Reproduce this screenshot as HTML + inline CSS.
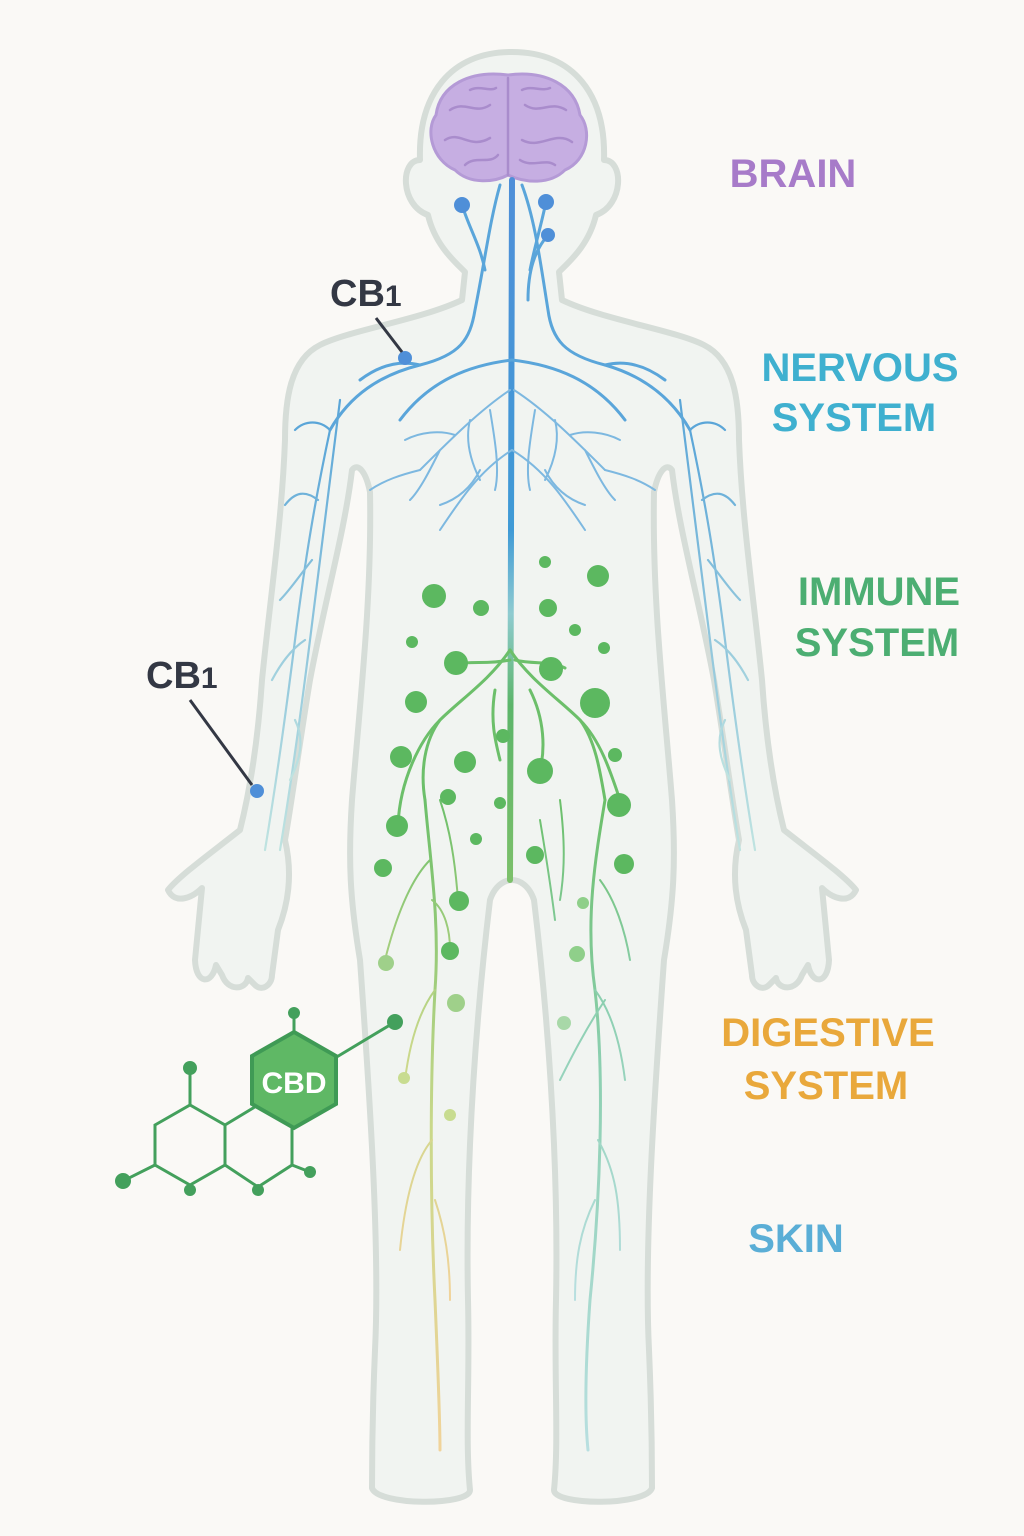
<!DOCTYPE html>
<html><head><meta charset="utf-8"><style>
html,body{margin:0;padding:0;background:#faf9f6;}
svg{display:block}
text{font-family:"Liberation Sans",sans-serif;font-weight:bold;}
</style></head><body>
<svg width="1024" height="1536" viewBox="0 0 1024 1536" xmlns="http://www.w3.org/2000/svg">
<defs>
<linearGradient id="sp" x1="0" y1="0" x2="0" y2="1">
<stop offset="0" stop-color="#4f8fd8"/><stop offset="0.5" stop-color="#3f9ad6"/><stop offset="0.62" stop-color="#8fcbd0"/><stop offset="0.75" stop-color="#5cb56a"/><stop offset="1" stop-color="#7cc06a"/>
</linearGradient>
<linearGradient id="lg" x1="0" y1="0" x2="0" y2="1">
<stop offset="0" stop-color="#6cbf6a"/><stop offset="0.5" stop-color="#c9d88a"/><stop offset="1" stop-color="#f1d39a"/>
</linearGradient>
<linearGradient id="rg" x1="0" y1="0" x2="0" y2="1">
<stop offset="0" stop-color="#6cbf6a"/><stop offset="0.4" stop-color="#8ccfb0"/><stop offset="1" stop-color="#b8dfe0"/>
</linearGradient>
<linearGradient id="ag" x1="0" y1="0" x2="0" y2="1">
<stop offset="0" stop-color="#5aa5d8"/><stop offset="1" stop-color="#bfe3e0"/>
</linearGradient>
<path id="half" d="M512,52 C450,52 418,95 420,160 C400,160 400,205 428,215 C435,245 455,262 465,272 L462,300 C420,320 350,330 320,345 C290,360 285,400 285,440 C282,520 270,600 262,680 C258,740 250,790 240,830 C215,850 180,875 168,890 C175,905 192,898 202,888 L195,960 C196,985 212,985 216,965 L222,975 C228,992 246,990 248,978 L255,985 C262,992 272,985 272,975 L278,930 C290,900 292,870 285,840 C292,800 300,740 310,680 C325,600 345,530 352,470 C358,462 366,472 370,492 C372,600 360,700 352,800 C348,860 350,900 360,960 C370,1100 380,1250 375,1350 C372,1420 372,1470 372,1488 C378,1506 470,1506 470,1490 C465,1440 470,1380 468,1300 C465,1150 478,1000 490,900 C495,885 505,880 512,880"/>
</defs>
<rect width="1024" height="1536" fill="#faf9f6"/>
<g fill="#f1f4f1" stroke="#d6ddd8" stroke-width="6" stroke-linejoin="round">
<use href="#half"/>
<use href="#half" transform="translate(1024,0) scale(-1,1)"/>
</g>
<!-- brain -->
<g>
<path d="M508,75 C470,70 440,85 436,115 C425,130 432,160 455,170 C470,185 495,182 508,175 C525,183 550,185 565,170 C588,160 592,130 580,115 C575,85 545,70 508,75 Z" fill="#c6aee2" stroke="#b49ad6" stroke-width="3"/>
<g fill="none" stroke="#a98ccc" stroke-width="2.5" stroke-linecap="round">
<path d="M508,78 L508,175"/>
<path d="M450,110 C465,100 475,115 490,105"/><path d="M445,140 C460,130 470,150 490,138"/><path d="M465,165 C475,155 490,165 498,155"/>
<path d="M525,105 C540,115 550,100 566,110"/><path d="M522,140 C540,150 555,130 572,142"/><path d="M520,160 C532,168 545,158 555,165"/>
<path d="M470,90 C480,85 490,92 496,88"/><path d="M522,90 C532,85 542,92 550,88"/>
</g>
</g>
<!-- nerves -->
<g fill="none" stroke-linecap="round">
<path d="M512,180 L510,880" stroke="url(#sp)" stroke-width="6"/>
<g stroke="#5aa5da" stroke-width="3">
<path d="M500,185 C490,220 485,260 475,310 C470,340 460,355 420,365 C380,375 350,395 330,430"/>
<path d="M522,185 C535,220 540,260 548,310 C552,340 565,355 605,365 C640,375 670,395 690,430"/>
<path d="M462,205 C470,230 480,245 485,270"/><path d="M546,202 C540,230 535,245 530,270"/>
<path d="M548,235 C535,250 528,270 528,300"/>
<path d="M512,360 C470,365 430,380 400,420"/><path d="M512,360 C555,365 595,380 625,420"/>
<path d="M420,365 C400,360 380,365 360,380"/><path d="M605,365 C625,360 645,365 665,380"/>
</g>
<g stroke="#7db8e0" stroke-width="2">
<path d="M510,390 C480,410 450,440 420,470 M455,435 C440,430 420,432 405,440 M440,450 C430,470 420,490 410,500 M470,420 C465,440 470,460 480,480 M490,410 C495,440 500,470 495,490 M480,470 C470,490 455,500 440,505"/>
<path d="M514,390 C545,410 575,440 605,470 M570,435 C585,430 605,432 620,440 M585,450 C595,470 605,490 615,500 M555,420 C560,440 555,460 545,480 M535,410 C530,440 525,470 530,490 M545,470 C555,490 570,500 585,505"/>
<path d="M512,450 C480,470 460,500 440,530 M512,450 C545,470 565,500 585,530 M420,470 C400,475 385,480 370,490 M605,470 C625,475 640,480 655,490"/>
</g>
<g stroke="url(#ag)" stroke-width="2.2">
<path d="M330,430 C315,500 305,560 295,640 C285,720 275,790 265,850"/>
<path d="M340,400 C330,480 320,560 310,640 C300,720 290,790 280,850"/>
<path d="M330,430 C320,420 305,420 295,430 M318,500 C305,490 295,492 285,505 M312,560 C300,575 290,590 280,600 M305,640 C290,650 280,665 272,680 M295,720 C305,740 300,760 290,780"/>
<path d="M690,430 C705,500 715,560 725,640 C735,720 745,790 755,850"/>
<path d="M680,400 C690,480 700,560 710,640 C720,720 730,790 740,850"/>
<path d="M690,430 C700,420 715,420 725,430 M702,500 C715,490 725,492 735,505 M708,560 C720,575 730,590 740,600 M715,640 C730,650 740,665 748,680 M725,720 C715,740 720,760 730,780"/>
</g>
<g stroke="#6cbf6a" stroke-width="3">
<path d="M510,650 C490,680 460,700 440,720 C425,740 420,770 425,800"/>
<path d="M510,650 C530,680 560,700 580,720 C595,740 600,770 605,800"/>
<path d="M510,660 C485,665 470,660 455,665 M515,660 C535,665 550,660 565,668"/>
<path d="M495,690 C490,720 495,740 500,760 M530,690 C545,720 545,750 540,770"/>
<path d="M440,720 C420,740 400,780 398,825"/>
<path d="M580,720 C600,740 610,770 620,800"/>
</g>
<path d="M425,800 C430,860 440,920 435,990 C430,1080 430,1200 435,1300 C438,1370 440,1420 440,1450" stroke="url(#lg)" stroke-width="3"/>
<path d="M430,860 C410,880 395,920 385,960 M432,900 C445,910 450,930 450,950 M435,990 C420,1010 410,1040 405,1080 M432,1140 C415,1160 405,1200 400,1250 M435,1200 C445,1230 450,1260 450,1300 M440,800 C450,830 455,860 458,900" stroke="url(#lg)" stroke-width="2"/>
<path d="M605,800 C595,860 585,920 595,990 C605,1080 600,1200 590,1300 C585,1370 585,1420 588,1450" stroke="url(#rg)" stroke-width="3"/>
<path d="M600,880 C615,900 625,930 630,960 M595,990 C610,1010 620,1040 625,1080 M598,1140 C615,1170 620,1200 620,1250 M595,1200 C580,1230 575,1260 575,1300 M560,800 C565,840 565,870 560,900 M540,820 C545,850 550,880 555,920 M605,1000 C585,1030 570,1060 560,1080" stroke="url(#rg)" stroke-width="2"/>
</g>
<!-- blue dots -->
<g fill="#4f8fd8">
<circle cx="462" cy="205" r="8"/><circle cx="546" cy="202" r="8"/><circle cx="548" cy="235" r="7"/><circle cx="405" cy="358" r="7"/><circle cx="257" cy="791" r="7"/>
</g>
<!-- green dots -->
<g fill="#5cb860">
<circle cx="434" cy="596" r="12"/><circle cx="481" cy="608" r="8"/><circle cx="545" cy="562" r="6"/><circle cx="598" cy="576" r="11"/><circle cx="548" cy="608" r="9"/><circle cx="575" cy="630" r="6"/><circle cx="604" cy="648" r="6"/><circle cx="412" cy="642" r="6"/><circle cx="456" cy="663" r="12"/><circle cx="551" cy="669" r="12"/><circle cx="595" cy="703" r="15"/><circle cx="416" cy="702" r="11"/><circle cx="401" cy="757" r="11"/><circle cx="465" cy="762" r="11"/><circle cx="503" cy="736" r="7"/><circle cx="540" cy="771" r="13"/><circle cx="615" cy="755" r="7"/><circle cx="619" cy="805" r="12"/><circle cx="448" cy="797" r="8"/><circle cx="500" cy="803" r="6"/><circle cx="397" cy="826" r="11"/><circle cx="476" cy="839" r="6"/><circle cx="535" cy="855" r="9"/><circle cx="624" cy="864" r="10"/><circle cx="383" cy="868" r="9"/><circle cx="459" cy="901" r="10"/><circle cx="583" cy="903" r="6" fill="#8fcf8a"/><circle cx="450" cy="951" r="9"/><circle cx="386" cy="963" r="8" fill="#9fd08a"/><circle cx="577" cy="954" r="8" fill="#8fcf8a"/><circle cx="456" cy="1003" r="9" fill="#9fd08a"/><circle cx="564" cy="1023" r="7" fill="#a8d8a8"/><circle cx="404" cy="1078" r="6" fill="#c8dc90"/><circle cx="450" cy="1115" r="6" fill="#c8dc90"/>
</g>
<!-- CB1 labels -->
<g stroke="#333844" stroke-width="3" fill="none"><path d="M376,318 L402,352"/><path d="M190,700 L252,785"/></g>
<text x="330" y="306" font-size="38" fill="#333844">CB<tspan font-size="30">1</tspan></text>
<text x="146" y="688" font-size="38" fill="#333844">CB<tspan font-size="30">1</tspan></text>
<!-- CBD molecule -->
<g stroke="#43a05c" stroke-width="3" fill="none">
<path d="M395,1022 L335,1058"/>
<path d="M155,1125 L190,1105 L225,1125 L225,1165 L190,1185 L155,1165 Z"/>
<path d="M225,1125 L258,1105 L258,1105 M225,1165 L258,1187 L292,1165 L292,1125"/>
<path d="M190,1105 L190,1068 M155,1165 L123,1181 M190,1185 L190,1190 M258,1187 L258,1190 M292,1165 L310,1172 M294,1045 L294,1013"/>
</g>
<polygon points="294,1032 336,1056 336,1104 294,1128 252,1104 252,1056" fill="#5fb865" stroke="#3f9a55" stroke-width="4"/>
<text x="294" y="1093" font-size="30" fill="#ffffff" text-anchor="middle">CBD</text>
<g fill="#43a05c">
<circle cx="395" cy="1022" r="8"/><circle cx="294" cy="1013" r="6"/><circle cx="190" cy="1068" r="7"/><circle cx="123" cy="1181" r="8"/><circle cx="190" cy="1190" r="6"/><circle cx="258" cy="1190" r="6"/><circle cx="310" cy="1172" r="6"/>
</g>
<!-- labels -->
<g font-size="40" text-anchor="middle">
<text x="793" y="187" fill="#a77bc9">BRAIN</text>
<text x="860" y="381" fill="#3fb0cf">NERVOUS</text>
<text x="854" y="431" fill="#3fb0cf">SYSTEM</text>
<text x="879" y="605" fill="#4cae72">IMMUNE</text>
<text x="877" y="656" fill="#4cae72">SYSTEM</text>
<text x="828" y="1046" fill="#e9a83b">DIGESTIVE</text>
<text x="826" y="1099" fill="#e9a83b">SYSTEM</text>
<text x="796" y="1252" fill="#5aaed6">SKIN</text>
</g>
</svg>
</body></html>
